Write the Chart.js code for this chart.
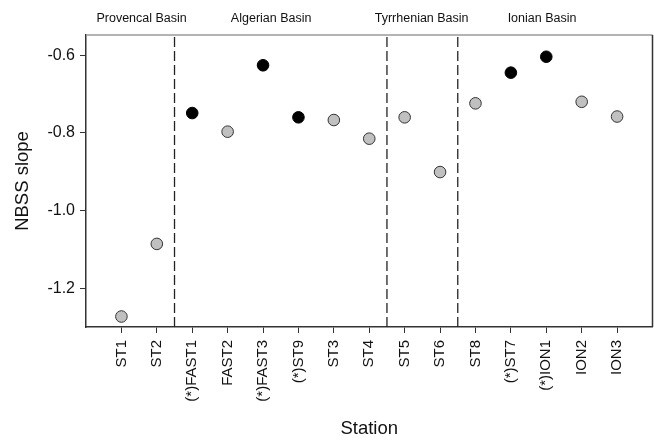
<!DOCTYPE html>
<html>
<head>
<meta charset="utf-8">
<script src="https://cdn.jsdelivr.net/npm/chart.js@4/dist/chart.umd.min.js"></script>
<style>
  html, body { margin: 0; padding: 0; background: #fff; }
  #wrap { width: 654px; height: 441px; }
</style>
</head>
<body>
<div id="wrap"><canvas id="myChart" width="654" height="441"></canvas></div>
<script>
// stations along the x axis, (*) marks the black ones
const stations = ['ST1', 'ST2', '(*)FAST1', 'FAST2', '(*)FAST3', '(*)ST9', 'ST3', 'ST4',
  'ST5', 'ST6', 'ST8', '(*)ST7', '(*)ION1', 'ION2', 'ION3'];
const slopes = [-1.273, -1.086, -0.749, -0.797, -0.626, -0.760, -0.767, -0.815,
  -0.760, -0.901, -0.724, -0.645, -0.604, -0.720, -0.758];
const yTicks = [-1.2, -1.0, -0.8, -0.6];
// basin separators sit between stations
const dividers = [2.5, 8.5, 10.5];
const basins = ['Provencal Basin', 'Algerian Basin', 'Tyrrhenian Basin', 'Ionian Basin'];
const basinCenters = [1.57, 5.23, 9.48, 12.88];

const yMin = -1.30, yMax = -0.548;
const font = 'Arial, "Liberation Sans", sans-serif';

const pts = stations.map((s, i) => ({ x: i + 1, y: slopes[i] }));
const fills = stations.map(s => s.startsWith('(*)') ? '#000000' : '#c0c0c0');
const borders = stations.map(s => s.startsWith('(*)') ? '#000000' : '#333333');

const divSets = dividers.map(d => ({
  type: 'line',
  data: [{ x: d, y: yMin }, { x: d, y: yMax }],
  borderColor: '#222',
  borderWidth: 1.3,
  borderDash: [10, 4],
  pointRadius: 0,
  fill: false
}));

const framePlugin = {
  id: 'frame',
  afterDraw(chart) {
    const { ctx, chartArea: a, scales } = chart;
    ctx.save();
    ctx.lineWidth = 1.5;
    ctx.strokeStyle = '#9a9a9a';
    ctx.beginPath();
    ctx.moveTo(a.left, a.top);
    ctx.lineTo(a.right, a.top);
    ctx.stroke();
    ctx.strokeStyle = '#333';
    ctx.beginPath();
    ctx.moveTo(a.right, a.top);
    ctx.lineTo(a.right, a.bottom);
    ctx.stroke();
    // basin names above the plot
    ctx.fillStyle = '#111';
    ctx.font = '12.5px ' + font;
    ctx.textAlign = 'center';
    ctx.textBaseline = 'middle';
    basins.forEach((b, i) => {
      ctx.fillText(b, scales.x.getPixelForValue(basinCenters[i]), 19);
    });
    ctx.restore();
  }
};

const ctx = document.getElementById('myChart').getContext('2d');
const chart = new Chart(ctx, {
  type: 'scatter',
  data: {
    datasets: [...divSets, {
      data: pts,
      pointRadius: 5.8,
      pointBackgroundColor: fills,
      pointBorderColor: borders,
      pointBorderWidth: 1,
      showLine: false
    }]
  },
  options: {
    responsive: false,
    animation: false,
    devicePixelRatio: 1,
    layout: { autoPadding: false, padding: { top: 35, right: 1.5, left: 0, bottom: 0 } },
    plugins: { legend: { display: false }, tooltip: { enabled: false } },
    scales: {
      x: {
        type: 'linear',
        min: 0,
        max: 16,
        afterBuildTicks: s => { s.ticks = stations.map((n, i) => ({ value: i + 1 })); },
        afterFit: s => { s.height = 114; },
        grid: { drawOnChartArea: false, drawTicks: true, tickLength: 6, color: '#333' },
        border: { display: true, color: '#333', width: 1.5 },
        ticks: {
          autoSkip: false,
          minRotation: 90,
          maxRotation: 90,
          padding: 7,
          color: '#111',
          font: { family: font, size: 15 },
          callback: v => stations[v - 1] || ''
        },
        title: { display: true, text: 'Station', color: '#111',
          font: { family: font, size: 18.5 }, padding: { top: 0, bottom: 1 } }
      },
      y: {
        min: yMin,
        max: yMax,
        afterBuildTicks: s => { s.ticks = yTicks.map(v => ({ value: v })); },
        afterFit: s => { s.width = 86; },
        grid: { drawOnChartArea: false, drawTicks: true, tickLength: 6, color: '#333' },
        border: { display: true, color: '#333', width: 1.5 },
        ticks: {
          padding: 5,
          color: '#111',
          font: { family: font, size: 16 },
          callback: v => v.toFixed(1)
        },
        title: { display: true, text: 'NBSS slope', color: '#111',
          font: { family: font, size: 18.5 }, padding: { top: 12, bottom: 0 } }
      }
    }
  },
  plugins: [framePlugin]
});
</script>
</body>
</html>
